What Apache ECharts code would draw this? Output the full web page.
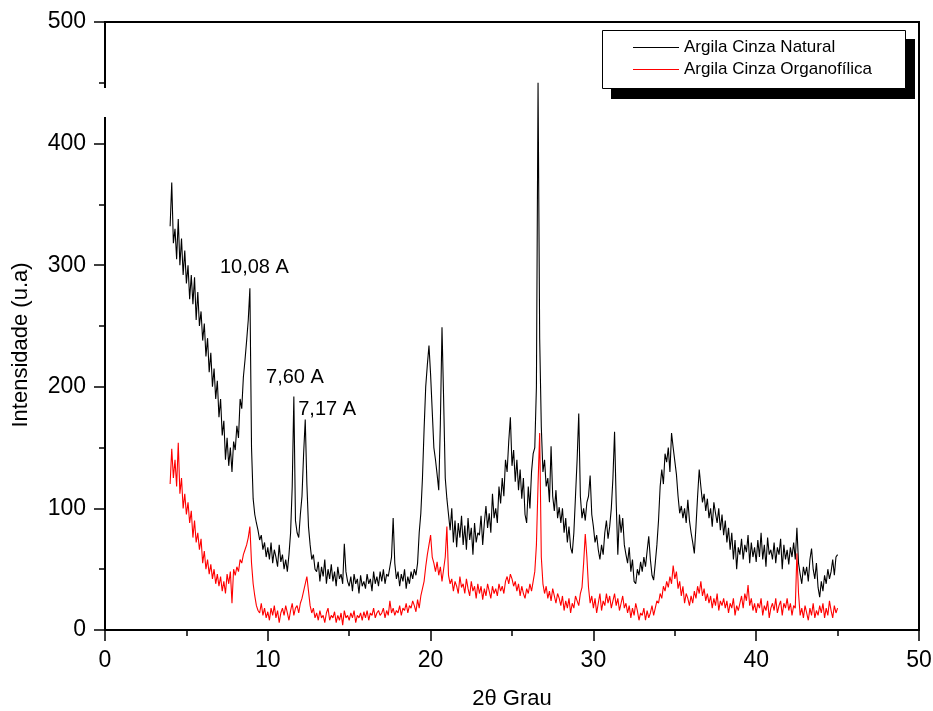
<!DOCTYPE html>
<html>
<head>
<meta charset="utf-8">
<script src="https://cdn.jsdelivr.net/npm/echarts@6/dist/echarts.min.js"></script>
<style>
  html, body { margin: 0; padding: 0; background: #fff; }
  #chart { width: 933px; height: 711px; }
</style>
</head>
<body>
<div id="chart"></div>
<script>
// Diffractogram sampled every 0.1 degree (2-theta), from 4.0 to 45.0
const angleStart = 4.0;
const angleStep = 0.1;

const seriesNames = ['Argila Cinza Natural', 'Argila Cinza Organofílica'];

// Argila Cinza Natural, intensity (u.a)
const natural = [
  332, 368, 318, 330, 305, 338, 300, 322, 292, 312,
  285, 300, 272, 292, 268, 290, 255, 278, 250, 262,
  238, 252, 225, 240, 212, 228, 200, 215, 190, 205,
  175, 190, 160, 172, 140, 158, 135, 150, 130, 155,
  148, 168, 158, 190, 182, 208, 222, 238, 255, 281,
  150, 108, 95, 88, 82, 74, 78, 66, 72, 60,
  68, 58, 72, 55, 66, 60, 52, 70, 56, 62,
  50, 58, 48, 62, 80, 118, 192, 90, 80, 76,
  95, 110, 145, 173, 120, 85, 70, 58, 62, 50,
  48, 56, 40, 52, 44, 58, 38, 50, 42, 54,
  40, 48, 36, 52, 42, 46, 38, 71, 48, 40,
  36, 44, 32, 46, 38, 42, 30, 45, 36, 40,
  34, 46, 38, 42, 32, 48, 38, 44, 36, 48,
  40, 50, 38, 46, 44, 52, 60, 92, 55, 42,
  48, 36, 46, 40, 50, 34, 44, 38, 48, 42,
  50, 45, 55, 80, 96, 125, 165, 200, 218, 234,
  210, 180, 150, 140, 128, 115, 170, 249, 190, 125,
  108, 95, 82, 100, 72, 90, 68, 88, 76, 94,
  70, 86, 66, 92, 74, 84, 62, 88, 72, 80,
  78, 94, 70, 88, 102, 84, 96, 80, 112, 92,
  100, 88, 118, 104, 125, 110, 140, 130, 155, 175,
  135, 148, 122, 140, 115, 132, 108, 125, 95, 88,
  118, 100, 130, 145, 150, 200, 450, 240, 167, 130,
  140, 118, 125, 105, 151, 110, 98, 115, 92, 101,
  88, 100, 80, 92, 72, 85, 68, 63, 80, 110,
  140, 178, 110, 92, 100, 90, 105, 110, 127, 95,
  85, 72, 78, 66, 58, 70, 62, 80, 90, 75,
  85, 100, 125, 163, 105, 62, 95, 80, 92, 70,
  62, 55, 68, 48, 58, 40, 38, 50, 45, 56,
  48, 60, 52, 65, 77, 58, 45, 41, 55, 70,
  90, 118, 132, 120, 145, 138, 150, 130, 162, 150,
  150, 128, 110, 96, 102, 92, 100, 88, 107, 90,
  80, 72, 63, 85, 110, 132, 118, 105, 112, 98,
  108, 92, 100, 85, 105, 96, 88, 100, 82, 95,
  78, 90, 72, 84, 66, 80, 58, 74, 50, 68,
  62, 75, 58, 70, 64, 78, 55, 72, 60, 68,
  56, 74, 60, 80, 58, 70, 52, 76, 62, 66,
  58, 72, 55, 68, 62, 75, 50, 70, 58, 66,
  54, 68, 60, 72, 58, 84, 55, 46, 38, 52,
  45, 52, 40, 58, 67, 50, 42, 55, 35, 27,
  40, 32, 45, 38, 50, 42, 48, 58, 45, 60,
  62
];

// Argila Cinza Organofílica, intensity (u.a)
const organo = [
  120, 149, 125, 140, 118, 154, 112, 125, 100, 112,
  95, 105, 88, 98, 76, 90, 72, 80, 66, 75,
  55, 65, 50, 58, 46, 54, 42, 50, 38, 46,
  36, 44, 32, 40, 30, 46, 38, 48, 22, 50,
  45, 52, 48, 58, 55, 62, 66, 70, 76, 85,
  55, 38, 28, 20, 16, 14, 22, 12, 18, 10,
  15, 8, 18, 12, 20, 10, 16, 6, 14, 18,
  12, 20, 14, 8, 16, 22, 12, 18, 20, 14,
  22, 26, 32, 38, 44, 32, 20, 14, 18, 10,
  14, 8, 16, 10, 12, 6, 14, 18, 8, 12,
  10, 15, 6, 12, 8, 14, 4, 16, 10, 12,
  8, 14, 10, 16, 6, 12, 10, 14, 8, 15,
  10, 16, 8, 14, 12, 18, 10, 14, 16, 12,
  14, 18, 10, 16, 12, 24, 14, 18, 12, 16,
  14, 20, 12, 18, 16, 22, 14, 20, 18, 24,
  20, 15, 25, 18, 28, 27, 40, 52, 62, 70,
  78, 60, 55, 48, 56, 45, 52, 40, 50, 60,
  85, 45, 38, 42, 32, 40, 36, 30, 44, 35,
  38, 30, 42, 34, 28, 40, 32, 36, 26, 38,
  30, 36, 25, 34, 28, 38, 32, 26, 36, 30,
  34, 28, 38, 32, 36, 30, 40, 44, 38, 46,
  42, 36, 40, 32, 38, 28, 36, 30, 26, 34,
  30, 38, 32, 40, 48, 70, 120, 162, 60, 38,
  30, 36, 26, 32, 24, 34, 28, 22, 30, 26,
  20, 28, 16, 24, 18, 26, 14, 22, 18, 28,
  24, 20, 30, 35, 55, 79, 60, 35, 22, 28,
  18, 26, 14, 22, 30, 16, 24, 20, 30, 22,
  28, 18, 24, 30, 20, 26, 16, 22, 28, 18,
  22, 14, 20, 10, 18, 12, 22, 16, 8, 14,
  12, 18, 8, 16, 10, 14, 20, 12, 18, 24,
  22, 30, 26, 36, 32, 40, 35, 44, 38, 53,
  42, 48, 34, 40, 28, 36, 22, 30, 26, 20,
  28, 22, 32, 26, 36, 30, 40, 28, 34, 24,
  30, 22, 28, 18, 26, 20, 30, 16, 24, 20,
  26, 18, 24, 14, 22, 18, 26, 12, 20, 16,
  22, 28, 18, 30, 24, 37, 20, 26, 16, 22,
  14, 22, 18, 26, 12, 20, 16, 24, 10, 18,
  22, 16, 26, 14, 20, 24, 12, 22, 18, 26,
  16, 22, 12, 20, 18, 63, 30, 12, 18, 10,
  20, 14, 8, 18, 12, 22, 10, 16, 12, 20,
  14, 22, 10, 18, 12, 24, 16, 10, 20, 14,
  18
];

// Basal spacing labels and where their text starts (2-theta, intensity)
const peakLabels = ['10,08 A', '7,60 A', '7,17 A'];
const peakLabelAnchors = [[7.06, 298], [9.89, 208], [11.87, 181.5]];

const FONT = '"Liberation Sans", Arial, sans-serif';

function toPairs(values) {
  return values.map((v, i) => [Number((angleStart + i * angleStep).toFixed(2)), v]);
}

const chart = echarts.init(document.getElementById('chart'), null, { renderer: 'canvas' });

const axisCommon = {
  type: 'value',
  axisLine: { show: true, lineStyle: { color: '#000', width: 2 } },
  axisTick: { show: true, inside: false, length: 11, lineStyle: { color: '#000', width: 1.5 } },
  minorTick: { show: true, splitNumber: 2, length: 6, lineStyle: { color: '#000', width: 1.5 } },
  splitLine: { show: false },
  minorSplitLine: { show: false },
  axisLabel: { color: '#000', fontSize: 23, fontFamily: FONT, margin: 19 },
  nameTextStyle: { color: '#000', fontSize: 22, fontFamily: FONT }
};

chart.setOption({
  animation: false,
  backgroundColor: '#fff',
  textStyle: { fontFamily: FONT },
  grid: {
    left: 105, right: 14, top: 22, bottom: 81,
    outerBoundsMode: 'none',
    containLabel: false,
    show: true, borderColor: '#000', borderWidth: 2, backgroundColor: 'transparent'
  },
  xAxis: Object.assign({}, axisCommon, {
    min: 0, max: 50, interval: 10,
    name: '2θ Grau',
    nameLocation: 'middle',
    nameGap: 58
  }),
  yAxis: Object.assign({}, axisCommon, {
    min: 0, max: 500, interval: 100
  }),
  legend: {
    data: seriesNames,
    orient: 'vertical',
    left: 633,
    top: 39,
    padding: 0,
    icon: 'rect',
    itemWidth: 46,
    itemHeight: 1.2,
    itemGap: 5,
    z: 10,
    selectedMode: false,
    textStyle: { color: '#000', fontSize: 17, fontFamily: FONT, lineHeight: 17 }
  },
  graphic: [
    // legend frame with its drop shadow
    { type: 'rect', z: 4, silent: true,
      shape: { x: 611, y: 39, width: 304, height: 60 },
      style: { fill: '#000' } },
    { type: 'rect', z: 5, silent: true,
      shape: { x: 602.5, y: 30.5, width: 303, height: 58 },
      style: { fill: '#fff', stroke: '#000', lineWidth: 1 } },
    // break in the left axis line
    { type: 'rect', z: 100, silent: true,
      shape: { x: 100, y: 88, width: 9, height: 29 },
      style: { fill: '#fff' } },
    // vertical axis title
    { type: 'text', z: 10, silent: true,
      x: 21, y: 345, rotation: Math.PI / 2,
      style: { text: 'Intensidade (u.a)', fill: '#000', fontSize: 22, fontFamily: FONT,
               align: 'center', verticalAlign: 'middle' } }
  ],
  series: [
    {
      name: seriesNames[0],
      type: 'line',
      data: toPairs(natural),
      showSymbol: false,
      symbol: 'none',
      color: '#000',
      lineStyle: { color: '#000', width: 1.1 },
      z: 2,
      markPoint: {
        symbol: 'circle',
        symbolSize: 0,
        silent: true,
        label: {
          show: true, position: 'right', distance: 0,
          color: '#000', fontSize: 20, fontFamily: FONT,
          formatter: p => p.name
        },
        data: peakLabels.map((t, i) => ({ name: t, coord: peakLabelAnchors[i] }))
      }
    },
    {
      name: seriesNames[1],
      type: 'line',
      data: toPairs(organo),
      showSymbol: false,
      symbol: 'none',
      color: '#ff0000',
      lineStyle: { color: '#ff0000', width: 1.1 },
      z: 3
    }
  ]
});
</script>
</body>
</html>
